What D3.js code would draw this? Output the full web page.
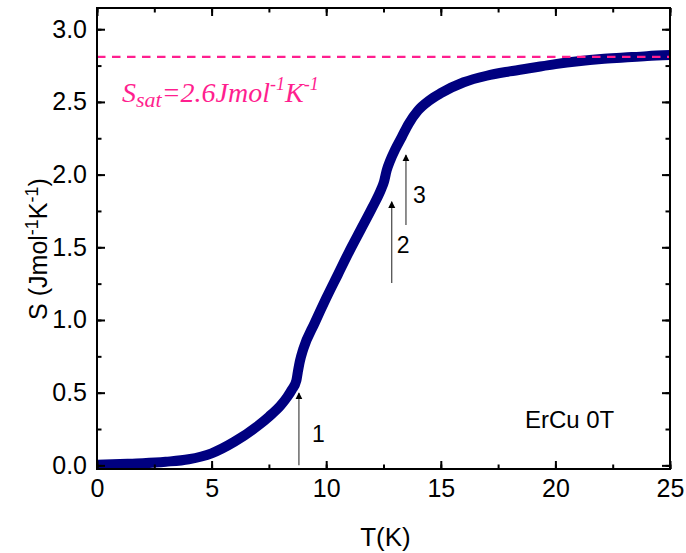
<!DOCTYPE html>
<html><head><meta charset="utf-8">
<script src="https://cdn.jsdelivr.net/npm/d3@7"></script>
<style>body{margin:0;background:#fff;} svg{display:block;}</style>
</head><body>
<svg id="c" width="686" height="553"></svg>
<script>
const temperature = [0, 1, 2, 3, 4, 5, 6, 7, 7.5, 8, 8.3, 8.5, 8.7, 8.76, 8.85, 9.0, 9.5, 10, 10.5, 11, 11.5, 12, 12.4, 12.52, 12.64, 12.8, 13.0, 13.3, 13.6, 14.0, 14.5, 15, 16, 17, 18, 19, 20, 21, 22, 23, 24, 25];
const entropy = [0.005, 0.01, 0.015, 0.025, 0.042, 0.083, 0.163, 0.27, 0.335, 0.41, 0.47, 0.52, 0.585, 0.64, 0.715, 0.80, 0.98, 1.15, 1.31, 1.47, 1.62, 1.77, 1.9, 1.95, 2.03, 2.1, 2.17, 2.26, 2.35, 2.44, 2.51, 2.56, 2.635, 2.68, 2.71, 2.735, 2.76, 2.78, 2.795, 2.805, 2.815, 2.822];
const xTicks = [0, 5, 10, 15, 20, 25];
const yTicks = [0.0, 0.5, 1.0, 1.5, 2.0, 2.5, 3.0];
const sSat = 2.81;
const arrowT = [8.81, 12.86, 13.48];
const arrowFrom = [0.0, 1.255, 1.654];
const arrowTo = [0.498, 1.814, 2.135];
const arrowLabels = ["1", "2", "3"];
const labelT = [9.38, 13.08, 13.79];
const labelS = [0.16, 1.46, 1.805];

const svg = d3.select("#c");
const L = 97, R = 670, T = 8, B = 469;
const x = d3.scaleLinear().domain([0, 25]).range([L, R]);
const y = d3.scaleLinear().domain([-0.025, 3.146]).range([B, T]);

svg.append("clipPath").attr("id", "clip").append("rect")
  .attr("x", L).attr("y", T).attr("width", R - L).attr("height", B - T);

// curve
const data = temperature.map((t, i) => [t, entropy[i]]);
svg.append("path").datum(data)
  .attr("clip-path", "url(#clip)")
  .attr("fill", "none").attr("stroke", "#000080").attr("stroke-width", 10)
  .attr("stroke-linejoin", "round")
  .attr("d", d3.line().x(d => x(d[0])).y(d => y(d[1])).curve(d3.curveMonotoneX));

// dashed saturation line
svg.append("line")
  .attr("x1", x(0)).attr("x2", x(25)).attr("y1", y(sSat)).attr("y2", y(sSat))
  .attr("stroke", "#ff1f8f").attr("stroke-width", 2.2).attr("stroke-dasharray", "8.5,6.5");

// axes
const font = "'Liberation Sans', Arial, sans-serif";
function styleAxis(g) {
  g.select(".domain").remove();
  g.selectAll("line").attr("stroke", "#000").attr("stroke-width", 2);
  g.selectAll("text").attr("font-family", font).attr("font-size", 25).attr("fill", "#000");
}
const xMinor = d3.range(0, 25.01, 2.5);
const yMinor = d3.range(0, 3.01, 0.25);

svg.append("g").attr("transform", `translate(0,${B})`)
  .call(d3.axisBottom(x).tickValues(xMinor).tickSizeInner(-4.5).tickSizeOuter(0).tickFormat(""))
  .call(styleAxis);
svg.append("g").attr("transform", `translate(0,${B})`)
  .call(d3.axisBottom(x).tickValues(xTicks).tickSizeInner(-8).tickSizeOuter(0).tickPadding(10).tickFormat(d3.format("d")))
  .call(styleAxis);
svg.append("g").attr("transform", `translate(0,${T})`)
  .call(d3.axisTop(x).tickValues(xMinor).tickSizeInner(-4.5).tickSizeOuter(0).tickFormat(""))
  .call(styleAxis);
svg.append("g").attr("transform", `translate(0,${T})`)
  .call(d3.axisTop(x).tickValues(xTicks).tickSizeInner(-8).tickSizeOuter(0).tickFormat(""))
  .call(styleAxis);

svg.append("g").attr("transform", `translate(${L},0)`)
  .call(d3.axisLeft(y).tickValues(yMinor).tickSizeInner(-4.5).tickSizeOuter(0).tickFormat(""))
  .call(styleAxis);
svg.append("g").attr("transform", `translate(${L},0)`)
  .call(d3.axisLeft(y).tickValues(yTicks).tickSizeInner(-8).tickSizeOuter(0).tickPadding(10).tickFormat(d3.format(".1f")))
  .call(styleAxis);
svg.append("g").attr("transform", `translate(${R},0)`)
  .call(d3.axisRight(y).tickValues(yMinor).tickSizeInner(-4.5).tickSizeOuter(0).tickFormat(""))
  .call(styleAxis);
svg.append("g").attr("transform", `translate(${R},0)`)
  .call(d3.axisRight(y).tickValues(yTicks).tickSizeInner(-8).tickSizeOuter(0).tickFormat(""))
  .call(styleAxis);

// frame
svg.append("rect").attr("x", L).attr("y", T).attr("width", R - L).attr("height", B - T)
  .attr("fill", "none").attr("stroke", "#000").attr("stroke-width", 2);

// axis titles
svg.append("text").attr("x", (L + R) / 2 + 2).attr("y", 546).attr("text-anchor", "middle")
  .attr("font-family", font).attr("font-size", 26).text("T(K)");
const yt = svg.append("text").attr("transform", "translate(47,249) rotate(-90)")
  .attr("text-anchor", "middle").attr("font-family", font).attr("font-size", 25);
yt.append("tspan").text("S (Jmol");
yt.append("tspan").attr("font-size", 18).attr("dy", -9).text("-1");
yt.append("tspan").attr("dy", 9).text("K");
yt.append("tspan").attr("font-size", 18).attr("dy", -9).text("-1");
yt.append("tspan").attr("dy", 9).text(")");

// arrows
const defs = svg.append("defs");
defs.append("marker").attr("id", "ah").attr("viewBox", "0 0 10 10").attr("refX", 9).attr("refY", 5)
  .attr("markerWidth", 7).attr("markerHeight", 11).attr("markerUnits", "userSpaceOnUse").attr("orient", "auto")
  .append("path").attr("d", "M0,0 L10,5 L0,10 Z").attr("fill", "#000");
arrowT.forEach((t, i) => {
  svg.append("line").attr("x1", x(t)).attr("x2", x(t))
    .attr("y1", y(arrowFrom[i])).attr("y2", y(arrowTo[i]))
    .attr("stroke", "#333").attr("stroke-width", 1.1).attr("marker-end", "url(#ah)");
  svg.append("text").attr("x", x(labelT[i])).attr("y", y(labelS[i]))
    .attr("font-family", font).attr("font-size", 23).text(arrowLabels[i]);
});

// sample label
svg.append("text").attr("x", x(18.67)).attr("y", y(0.257))
  .attr("font-family", font).attr("font-size", 24).text("ErCu 0T");

// S_sat label
const st = svg.append("text").attr("x", 122).attr("y", 102)
  .attr("font-family", "'Liberation Serif', 'Times New Roman', serif").attr("font-style", "italic")
  .attr("font-size", 28).attr("fill", "#ff1f8f");
st.append("tspan").text("S");
st.append("tspan").attr("font-size", 22).attr("dy", 5).text("sat");
st.append("tspan").attr("dy", -5).text("=2.6Jmol");
st.append("tspan").attr("font-size", 18).attr("dy", -12).text("-1");
st.append("tspan").attr("dy", 12).text("K");
st.append("tspan").attr("font-size", 18).attr("dy", -12).text("-1");
</script>
</body></html>
